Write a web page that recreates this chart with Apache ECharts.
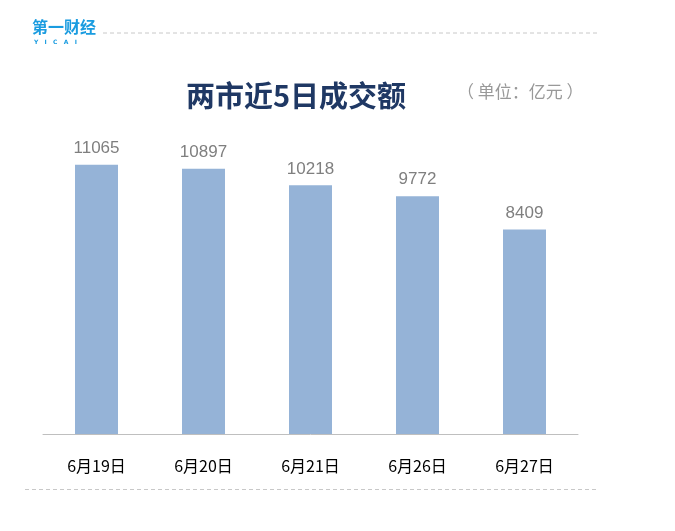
<!DOCTYPE html>
<html><head><meta charset="utf-8">
<script src="https://cdn.jsdelivr.net/npm/echarts@6/dist/echarts.min.js"></script>
<style>html,body{margin:0;padding:0;background:#fff}#c{width:675px;height:531px}</style>
</head><body><div id="c"></div>
<script>
const categories = ['6月19日','6月20日','6月21日','6月26日','6月27日'];
const values = [11065, 10897, 10218, 9772, 8409];
const titleText = '两市近5日成交额';
const unitText = '（ 单位：亿元 ）';

const chart = echarts.init(document.getElementById('c'));
chart.setOption({
  animation: false,
  backgroundColor: '#fff',
  grid: { left: 43, right: 97, top: 142, bottom: 97 },
  title: [
    { text: titleText, left: 181, top: 76,
      textStyle: { fontSize: 29, fontWeight: 'bold', color: '#1f3864', fontFamily: 'Noto Sans CJK SC' } },
    { text: unitText, left: 452, top: 78,
      textStyle: { fontSize: 17, fontWeight: 'normal', color: '#999999', fontFamily: 'Noto Sans CJK SC' } }
  ],
  xAxis: {
    type: 'category', data: categories,
    axisLine: { lineStyle: { color: '#bfbfbf', width: 1 } },
    axisTick: { show: false },
    axisLabel: { color: '#000', fontSize: 16, margin: 24, fontFamily: 'Noto Sans CJK SC' }
  },
  yAxis: { type: 'value', min: 0, max: 12000, show: false, splitLine: { show: false } },
  series: [{
    type: 'bar', data: values, barWidth: 43,
    itemStyle: { color: '#95b3d7' },
    label: { show: true, position: 'top', distance: 8, color: '#7f7f7f', fontSize: 17, fontFamily: 'Liberation Sans' }
  }],
  graphic: [
    { type: 'text', left: 32, top: 19, style: { text: '第一财经', fill: '#1a9ce0', font: 'bold 16px "Noto Sans CJK SC"' } },
    { type: 'text', left: 34, top: 39, style: { text: 'Y   I   C   A   I', fill: '#1a9ce0', font: 'bold 6px "DejaVu Sans"' } },
    { type: 'line', shape: { x1: 103, y1: 33, x2: 598, y2: 33 }, style: { stroke: '#c8c8c8', lineWidth: 1, lineDash: [4, 3] } },
    { type: 'line', shape: { x1: 25, y1: 489.5, x2: 598, y2: 489.5 }, style: { stroke: '#c8c8c8', lineWidth: 1, lineDash: [4, 3] } }
  ]
});
</script></body></html>
